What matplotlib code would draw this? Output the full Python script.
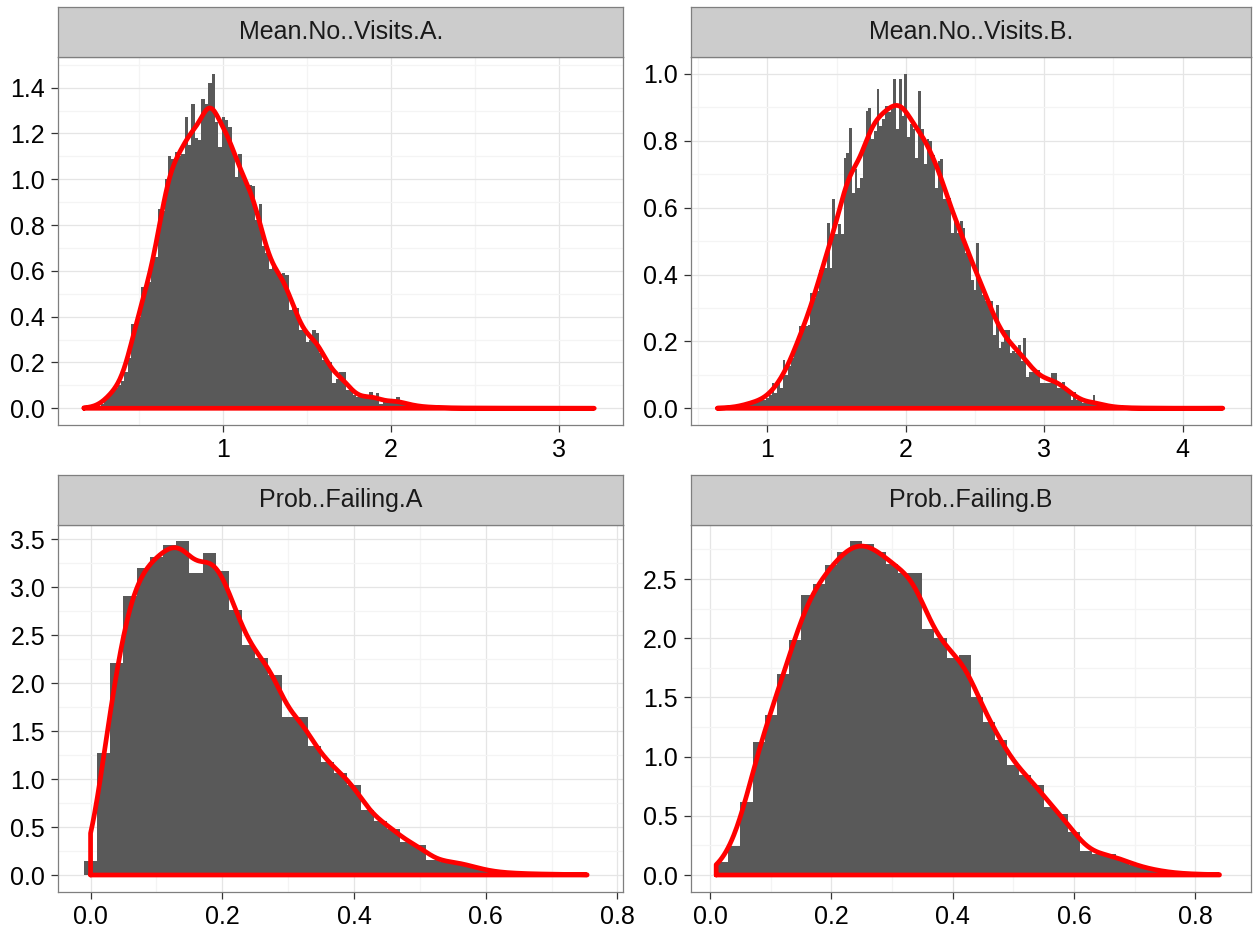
import numpy as np
import matplotlib
matplotlib.use("Agg")
import matplotlib.pyplot as plt
from matplotlib.ticker import MultipleLocator, FormatStrFormatter

# ---------------- data ----------------
panel_titles = ["Mean.No..Visits.A.", "Mean.No..Visits.B.",
                "Prob..Failing.A", "Prob..Failing.B"]
bin_width = 0.02

# histogram densities, bins centred at first_center + k*bin_width
a_first_center = 0.18
a_heights = [
    0.002, 0.003, 0.004, 0.008, 0.012, 0.02, 0.04, 0.06, 0.07, 0.09,
    0.10, 0.12, 0.16, 0.22, 0.37, 0.36, 0.40, 0.53, 0.52, 0.55,
    0.64, 0.66, 0.87, 0.86, 1.00, 1.10, 1.09, 1.12, 1.10, 1.11,
    1.27, 1.15, 1.33, 1.18, 1.17, 1.35, 1.33, 1.42, 1.46, 1.25,
    1.14, 1.27, 1.26, 1.23, 1.12, 1.01, 1.11, 1.00, 0.99, 0.975,
    0.97, 0.82, 0.89, 0.71, 0.68, 0.61, 0.62, 0.60, 0.585, 0.59,
    0.58, 0.43, 0.44, 0.44, 0.34, 0.34, 0.29, 0.30, 0.34, 0.33,
    0.24, 0.21, 0.21, 0.20, 0.11, 0.13, 0.16, 0.16, 0.08, 0.08,
    0.06, 0.05, 0.05, 0.045, 0.045, 0.07, 0.04, 0.065, 0.02, 0.03,
    0.03, 0.03, 0.03, 0.05, 0.02, 0.02, 0.02, 0.015, 0.01, 0.01,
    0.008, 0.006, 0.005, 0.005, 0.003, 0.005, 0.003, 0.002, 0.003, 0.0,
    0.002, 0.002, 0.0, 0.002, 0.0, 0.002, 0.0, 0.002, 0.0, 0.0,
    0.002, 0.0, 0.0, 0.002, 0.0, 0.0, 0.0, 0.002, 0.0, 0.0,
    0.0, 0.002, 0.0, 0.0, 0.0, 0.0, 0.002, 0.0, 0.0, 0.0,
    0.0, 0.0, 0.002, 0.0, 0.0, 0.0, 0.0, 0.0, 0.0, 0.0,
    0.0, 0.0, 0.002]

b_first_center = 0.64
b_heights = [
    0.001, 0.0, 0.001, 0.001, 0.002, 0.002, 0.003, 0.004, 0.006, 0.008,
    0.01, 0.012, 0.018, 0.02, 0.022, 0.02, 0.025, 0.025, 0.03, 0.04,
    0.075, 0.045, 0.075, 0.06, 0.145, 0.10, 0.125, 0.15, 0.175, 0.20,
    0.245, 0.25, 0.245, 0.25, 0.345, 0.33, 0.35, 0.415, 0.41, 0.42,
    0.555, 0.42, 0.625, 0.52, 0.55, 0.52, 0.748, 0.764, 0.838, 0.645,
    0.716, 0.66, 0.69, 0.78, 0.888, 0.898, 0.806, 0.83, 0.956, 0.845,
    0.865, 0.905, 0.885, 0.896, 0.984, 0.836, 0.986, 0.875, 1.0, 0.81,
    0.85, 0.836, 0.75, 0.949, 0.836, 0.73, 0.806, 0.80, 0.757, 0.66,
    0.74, 0.745, 0.625, 0.635, 0.63, 0.525, 0.56, 0.525, 0.56, 0.54,
    0.465, 0.465, 0.385, 0.355, 0.493, 0.38, 0.34, 0.32, 0.32, 0.32,
    0.22, 0.31, 0.18, 0.197, 0.235, 0.235, 0.166, 0.17, 0.166, 0.19,
    0.14, 0.21, 0.095, 0.11, 0.11, 0.115, 0.115, 0.077, 0.077, 0.077,
    0.077, 0.107, 0.107, 0.06, 0.06, 0.08, 0.055, 0.055, 0.025, 0.05,
    0.025, 0.025, 0.015, 0.015, 0.015, 0.015, 0.04, 0.01, 0.01, 0.01,
    0.008, 0.006, 0.005, 0.003, 0.004, 0.002, 0.003, 0.002, 0.0, 0.002,
    0.0, 0.002, 0.0, 0.0, 0.002, 0.0, 0.0, 0.0, 0.002, 0.0,
    0.0, 0.0, 0.0, 0.0, 0.0, 0.0, 0.0, 0.0, 0.0, 0.002,
    0.0, 0.0, 0.0, 0.0, 0.0, 0.0, 0.0, 0.0, 0.0, 0.0,
    0.0, 0.0, 0.0, 0.002]

c_first_center = 0.00
c_heights = [
    0.149, 1.27, 2.21, 2.91, 3.20, 3.31, 3.44, 3.48, 3.15, 3.36,
    3.17, 2.76, 2.40, 2.26, 2.09, 1.65, 1.65, 1.34, 1.18, 1.06,
    0.94, 0.68, 0.56, 0.48, 0.34, 0.31, 0.16, 0.14, 0.13, 0.09,
    0.05, 0.03, 0.02, 0.015, 0.01, 0.01, 0.005, 0.003, 0.003]

d_first_center = 0.02
d_heights = [
    0.113, 0.245, 0.62, 1.126, 1.35, 1.70, 1.985, 2.365, 2.46, 2.62,
    2.73, 2.82, 2.80, 2.73, 2.63, 2.55, 2.55, 2.08, 2.0, 1.83,
    1.86, 1.506, 1.295, 1.14, 0.93, 0.845, 0.76, 0.577, 0.515, 0.36,
    0.203, 0.175, 0.175, 0.13, 0.085, 0.056, 0.037, 0.02, 0.012, 0.008,
    0.005, 0.003]

# extent of the data (range of the density curve)
density_ranges = [(0.17, 3.21), (0.64, 4.29), (0.0, 0.754), (0.01, 0.84)]
# kernel bandwidths for the density estimate
bandwidths = [0.045, 0.062, 0.017, 0.021]

x_major = [1.0, 1.0, 0.2, 0.2]
y_major = [0.2, 0.2, 0.5, 0.5]
x_fmt = ["%d", "%d", "%.1f", "%.1f"]

# ---------------- layout / style ----------------
W, H, DPI = 1257, 936, 100
plt.rcParams["font.family"] = ["Liberation Sans", "DejaVu Sans"]

BAR = "#595959"
RED = "#ff0000"
BORDER = "#7f7f7f"
STRIP = "#cccccc"
FS = 18

panel_px = [(58.3, 57.2, 623.3, 425.0), (690.7, 57.2, 1251.0, 425.0),
            (58.3, 524.5, 623.3, 891.7), (690.7, 524.5, 1251.0, 891.7)]
strip_px = [(58.3, 7.0, 623.3, 57.2), (690.7, 7.0, 1251.0, 57.2),
            (58.3, 475.0, 623.3, 524.5), (690.7, 475.0, 1251.0, 524.5)]


def rect(x0, y0, x1, y1):
    return [x0 / W, 1 - y1 / H, (x1 - x0) / W, (y1 - y0) / H]


def kde(centers, heights, bw, lo, hi, n=512):
    xs = np.linspace(lo, hi, n)
    w = np.asarray(heights) * bin_width
    w = w / w.sum()
    z = (xs[:, None] - centers[None, :]) / bw
    d = (w[None, :] * np.exp(-0.5 * z ** 2)).sum(axis=1) / (bw * np.sqrt(2 * np.pi))
    return xs, d


fig = plt.figure(figsize=(W / DPI, H / DPI), dpi=DPI)
fig.patch.set_facecolor("white")

hist_data = [(a_first_center, a_heights), (b_first_center, b_heights),
             (c_first_center, c_heights), (d_first_center, d_heights)]

for i in range(4):
    first, heights = hist_data[i]
    heights = np.asarray(heights, dtype=float)
    centers = first + bin_width * np.arange(len(heights))
    ax = fig.add_axes(rect(*panel_px[i]))
    ax.set_facecolor("white")
    ax.bar(centers, heights, width=bin_width, color=BAR, linewidth=0, zorder=2)

    lo, hi = density_ranges[i]
    xs, d = kde(centers, heights, bandwidths[i], lo, hi)
    px = np.concatenate([[lo], xs, [hi, lo]])
    py = np.concatenate([[0.0], d, [0.0, 0.0]])
    ax.plot(px, py, color=RED, lw=3.4, solid_joinstyle="round",
            solid_capstyle="round", zorder=3)

    xmin = min(centers[0] - bin_width / 2, lo)
    xmax = max(centers[-1] + bin_width / 2, hi)
    ymax = max(heights.max(), d.max())
    xr = xmax - xmin
    ax.set_xlim(xmin - 0.05 * xr, xmax + 0.05 * xr)
    ax.set_ylim(-0.05 * ymax, 1.05 * ymax)

    ax.xaxis.set_major_locator(MultipleLocator(x_major[i]))
    ax.xaxis.set_minor_locator(MultipleLocator(x_major[i] / 2))
    ax.yaxis.set_major_locator(MultipleLocator(y_major[i]))
    ax.yaxis.set_minor_locator(MultipleLocator(y_major[i] / 2))
    ax.xaxis.set_major_formatter(FormatStrFormatter(x_fmt[i]))
    ax.yaxis.set_major_formatter(FormatStrFormatter("%.1f"))

    ax.grid(which="major", color="#e5e5e5", lw=0.9, zorder=0)
    ax.grid(which="minor", color="#f4f4f4", lw=0.9, zorder=0)
    ax.set_axisbelow(True)
    for s in ax.spines.values():
        s.set_color(BORDER)
        s.set_linewidth(0.9)
    ax.tick_params(which="major", direction="out", length=5, width=0.9,
                   color="#333333", labelsize=FS, labelcolor="black", pad=4.5)
    ax.tick_params(which="minor", length=0)

    sax = fig.add_axes(rect(*strip_px[i]))
    sax.set_facecolor(STRIP)
    sax.set_xticks([])
    sax.set_yticks([])
    for s in sax.spines.values():
        s.set_color(BORDER)
        s.set_linewidth(0.9)
    sax.text(0.5, 0.5, panel_titles[i], ha="center", va="center",
             fontsize=FS, color="#1a1a1a", transform=sax.transAxes)

fig.savefig("out.png", dpi=DPI)
